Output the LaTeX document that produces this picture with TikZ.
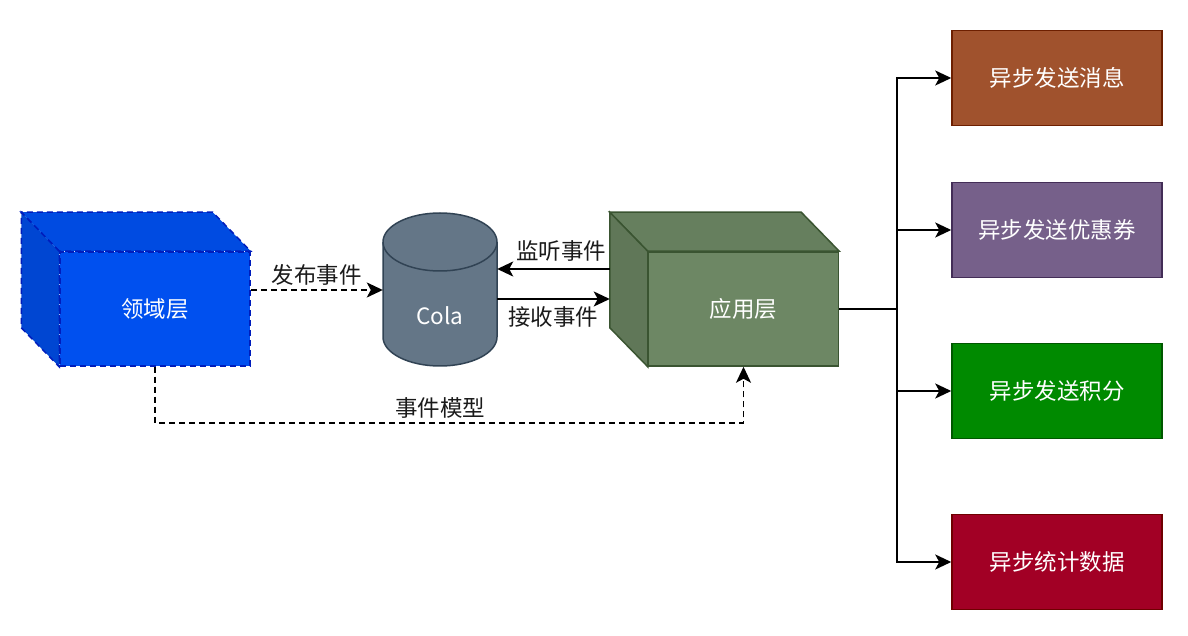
\documentclass[tikz,border=0pt]{standalone}
\usepackage{fontspec}
\setmainfont{Noto Sans CJK SC}
\usepackage{tikz}
\usetikzlibrary{arrows.meta,backgrounds}
\definecolor{domainfill}{HTML}{0050EF}
\definecolor{domainline}{HTML}{001DBC}
\definecolor{colafill}{HTML}{647687}
\definecolor{colaline}{HTML}{314354}
\definecolor{appfill}{HTML}{6D8764}
\definecolor{appline}{HTML}{3A5431}
\definecolor{msgfill}{HTML}{A0522D}
\definecolor{msgline}{HTML}{6D1F00}
\definecolor{cpnfill}{HTML}{76608A}
\definecolor{cpnline}{HTML}{432D57}
\definecolor{ptsfill}{HTML}{008A00}
\definecolor{ptsline}{HTML}{005700}
\definecolor{statfill}{HTML}{A20025}
\definecolor{statline}{HTML}{6F0000}
\definecolor{labeltext}{HTML}{1A1A1A}
\tikzset{
  front/.style={draw, rectangle, line width=1.5pt, text=white, minimum width=190pt, minimum height=114pt},
  evtdash/.style={dash pattern=on 6pt off 4pt},
  domainface/.style={front, fill=domainfill, draw=domainline, evtdash},  % 领域层
  appface/.style={front, fill=appfill, draw=appline},                    % 应用层
  task/.style={draw, rectangle, line width=1.5pt, text=white, minimum width=210pt, minimum height=95pt},
  flow/.style={line width=1.8pt, -{Stealth[length=16pt,width=15pt,inset=4pt]}},
  lbl/.style={text=labeltext}
}

\begin{document}
\begin{tikzpicture}[x=1pt, y=1pt, font=\fontsize{22.5}{26}\selectfont]
  \useasboundingbox (0,0) rectangle (1188,635);

  % 第一列:领域层
  \node (domain) [domainface] at (155,326) {领域层};
  \begin{scope}[on background layer]
    \filldraw[fill=domainfill!94!black, draw=domainline, line width=1.5pt, evtdash]
      (domain.north west) -- ++(-38,39) -- ([shift={(-38,39)}]domain.north east) -- (domain.north east) -- cycle;
    \filldraw[fill=domainfill!88!black, draw=domainline, line width=1.5pt, evtdash]
      (domain.north west) -- ++(-38,39) -- ([shift={(-38,39)}]domain.south west) -- (domain.south west) -- cycle;
  \end{scope}

  % 第二列:Cola
  \node (cola) [minimum width=114pt, minimum height=153pt, label={[text=white, yshift=-26pt]center:Cola}] at (440,345.5) {};
  \begin{scope}[on background layer]
    \filldraw[fill=colafill, draw=colaline, line width=1.5pt]
      (383,393) -- (383,298) arc[start angle=180, end angle=360, x radius=57, y radius=29]
      -- (497,393) arc[start angle=0, end angle=180, x radius=57, y radius=29] -- cycle;
    \draw[colaline, line width=1.5pt] (383,393) arc[start angle=180, end angle=360, x radius=57, y radius=29];
  \end{scope}

  % 第三列:应用层
  \node (app) [appface] at (743.5,326) {应用层};
  \begin{scope}[on background layer]
    \filldraw[fill=appfill!94!black, draw=appline, line width=1.5pt]
      (app.north west) -- ++(-38,39) -- ([shift={(-38,39)}]app.north east) -- (app.north east) -- cycle;
    \filldraw[fill=appfill!88!black, draw=appline, line width=1.5pt]
      (app.north west) -- ++(-38,39) -- ([shift={(-38,39)}]app.south west) -- (app.south west) -- cycle;
  \end{scope}
  \coordinate (listen) at ([shift={(-38,40)}]app.west);
  \coordinate (recv) at ([shift={(-38,10)}]app.west);

  % 第四列:异步任务
  \node (msg)  [task, fill=msgfill, draw=msgline]   at (1057,557) {异步发送消息};
  \node (cpn)  [task, fill=cpnfill, draw=cpnline]   at (1057,405) {异步发送优惠券};
  \node (pts)  [task, fill=ptsfill, draw=ptsline]   at (1057,244) {异步发送积分};
  \node (stat) [task, fill=statfill, draw=statline] at (1057,73)  {异步统计数据};

  % 连线
  \draw[flow, evtdash] ([yshift=19pt]domain.east) -- ([yshift=19pt]domain.east -| cola.west)
    node[lbl, midway, above, yshift=0pt] {发布事件};
  \draw[flow] (listen) -- (listen -| cola.east)
    node[lbl, midway, above, xshift=8pt, yshift=3pt] {监听事件};
  \draw[flow] (recv -| cola.east) -- (recv)
    node[lbl, midway, below, yshift=-3pt] {接收事件};
  \draw[flow, evtdash] (domain.south) -- ++(0,-56) -| (app.south)
    node[lbl, pos=0.25, above, xshift=-9pt] {事件模型};

  \draw[line width=1.8pt] (app.east) -- ++(58,0) coordinate (fork);
  \foreach \t in {msg,cpn,pts,stat}
    \draw[flow] (fork) |- (\t.west);

\end{tikzpicture}
\end{document}
